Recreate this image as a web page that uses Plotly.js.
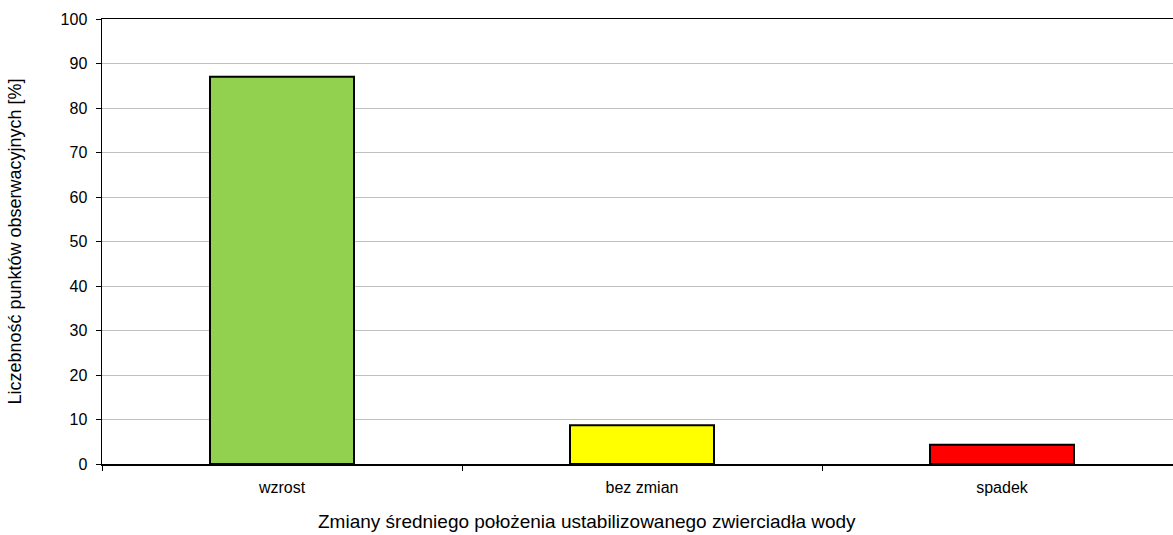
<!DOCTYPE html>
<html>
<head>
<meta charset="utf-8">
<script src="https://cdn.plot.ly/plotly-3.0.1.min.js"></script>
<style>
html,body{margin:0;padding:0;overflow:hidden;background:#fff;}
#chart{width:1190px;height:535px;}
</style>
</head>
<body>
<div id="chart"></div>
<script>
const categories = ["wzrost", "bez zmian", "spadek"];
const values = [87.0, 8.7, 4.3];
const barColors = ["#92D050", "#FFFF00", "#FF0000"];
const yTickVals = [0, 10, 20, 30, 40, 50, 60, 70, 80, 90, 100];
const xTitle = "Zmiany średniego położenia ustabilizowanego zwierciadła wody";
const yTitle = "Liczebność punktów obserwacyjnych [%]";

const font = "Liberation Sans, Arial, sans-serif";

const data = [{
  type: "bar",
  x: categories,
  y: values,
  marker: {color: barColors, line: {color: "#000000", width: 2}},
  hoverinfo: "none"
}];

const layout = {
  width: 1190,
  height: 535,
  margin: {l: 102, r: 8, t: 19, b: 71},
  paper_bgcolor: "#ffffff",
  plot_bgcolor: "#ffffff",
  bargap: 0.6,
  showlegend: false,
  font: {family: font, color: "#000000", size: 16},
  xaxis: {
    type: "category",
    range: [-0.5, 2.5],
    showline: true,
    linecolor: "#000000",
    linewidth: 1.5,
    mirror: true,
    ticks: "outside",
    tickson: "boundaries",
    ticklen: 5,
    tickcolor: "#000000",
    tickwidth: 1,
    showgrid: false,
    ticklabelstandoff: 8,
    tickfont: {family: font, size: 16, color: "#000000"},
    fixedrange: true
  },
  yaxis: {
    range: [0, 100],
    tickvals: yTickVals,
    ticktext: yTickVals.map(String),
    showline: true,
    linecolor: "#000000",
    linewidth: 1.5,
    ticks: "outside",
    ticklen: 5,
    tickcolor: "#000000",
    showgrid: true,
    gridcolor: "#C0C0C0",
    gridwidth: 1,
    zeroline: false,
    ticklabelstandoff: 5,
    tickfont: {family: font, size: 16, color: "#000000"},
    title: {text: yTitle, font: {family: font, size: 18, color: "#000000"}, standoff: 34},
    fixedrange: true
  },
  annotations: [{
    text: xTitle,
    xref: "paper", yref: "paper",
    x: (586.5 - 102) / 1080, y: -0.13,
    xanchor: "center", yanchor: "middle",
    showarrow: false,
    font: {family: font, size: 19, color: "#000000"}
  }]
};

Plotly.newPlot("chart", data, layout, {displayModeBar: false, staticPlot: true});
</script>
</body>
</html>
